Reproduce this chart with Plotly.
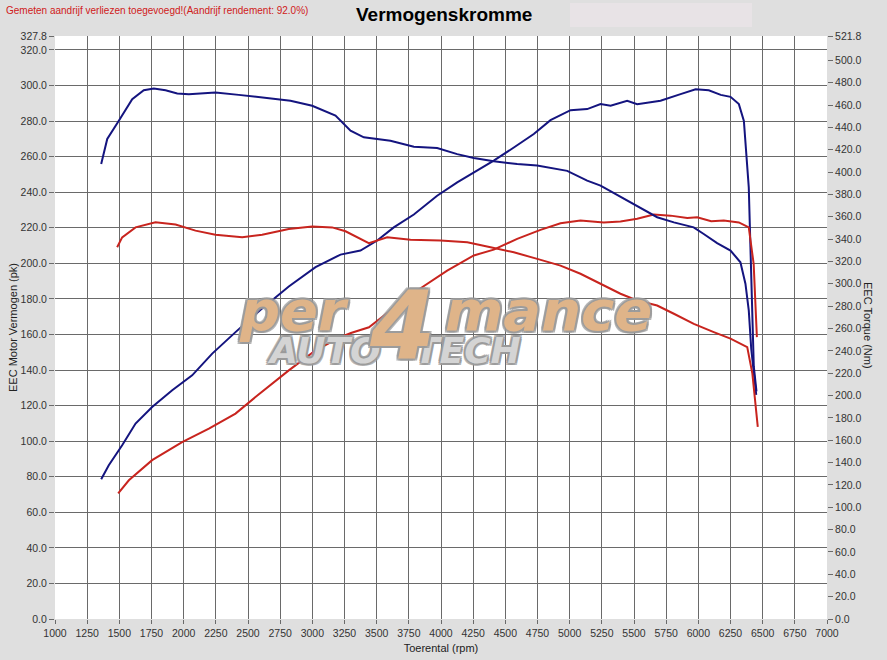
import plotly.graph_objects as go

# ---------------- data ----------------
rpm_ticks = list(range(1000, 7001, 250))
left_ticks = [float(v) for v in range(0, 321, 20)] + [327.8]
right_ticks = [float(v) for v in range(0, 501, 20)] + [521.8]

# Blue run - power (pk, left axis)
blue_power_rpm = [1359, 1418, 1522, 1626, 1755, 1911, 2066, 2222, 2403, 2600, 2817, 3025,
                  3219, 3374, 3504, 3633, 3789, 3970, 4126, 4255, 4410, 4566, 4721, 4851,
                  5007, 5136, 5240, 5318, 5447, 5525, 5706, 5862, 5979, 6081, 6174, 6250,
                  6315, 6354, 6375, 6392, 6405, 6418, 6431, 6452]
blue_power_pk = [78.6, 86.5, 97.7, 109.9, 119.2, 128.6, 137.0, 149.2, 161.3, 174.0, 187.0, 197.8,
                 204.9, 207.2, 212.8, 220.2, 227.4, 238.0, 245.5, 251.1, 257.7, 265.1, 272.7, 280.5,
                 286.1, 286.7, 289.5, 288.6, 291.4, 289.5, 291.4, 295.1, 297.9, 297.3, 294.7, 293.6,
                 289.5, 280.1, 261.4, 242.7, 209.0, 172.0, 142.0, 128.0]

# Blue run - torque (Nm, right axis)
blue_torque_rpm = [1359, 1406, 1496, 1600, 1690, 1768, 1859, 1950, 2040, 2247, 2428, 2610,
                   2830, 2999, 3180, 3297, 3400, 3607, 3789, 3970, 4126, 4255, 4410, 4592,
                   4747, 4981, 5136, 5240, 5369, 5498, 5576, 5680, 5810, 5964, 6042, 6146,
                   6250, 6327, 6366, 6392, 6411, 6430, 6450]
blue_torque_nm = [407.2, 429.6, 445.9, 465.3, 473.2, 474.8, 473.2, 470.4, 469.7, 471.2, 469.1, 466.7,
                  463.9, 459.4, 450.5, 437.0, 431.1, 428.0, 422.6, 421.5, 416.1, 412.6, 409.6, 407.2,
                  405.8, 401.1, 392.4, 387.9, 379.8, 371.5, 366.1, 359.6, 355.0, 350.5, 344.6, 336.4,
                  329.8, 319.3, 300.1, 276.2, 242.0, 219.7, 200.6]

# Red run - power (pk, left axis)
red_power_rpm = [1491, 1574, 1755, 1988, 2196, 2403, 2558, 2817, 3025, 3219, 3300, 3374,
                 3440, 3607, 3815, 4048, 4255, 4410, 4592, 4773, 4929, 5084, 5265, 5395,
                 5525, 5654, 5784, 5914, 5991, 6100, 6198, 6315, 6392, 6430, 6455]
red_power_pk = [70.6, 78.0, 89.3, 99.5, 107.0, 115.5, 124.8, 139.8, 151.0, 158.5, 160.8, 162.5,
                164.0, 173.5, 184.7, 195.9, 204.4, 207.7, 213.7, 218.8, 222.5, 224.0, 223.0, 223.5,
                225.0, 227.4, 226.8, 225.5, 225.9, 223.6, 224.0, 223.0, 220.2, 199.7, 158.5]

# Red run - torque (Nm, right axis)
red_torque_rpm = [1483, 1522, 1626, 1781, 1937, 2092, 2247, 2455, 2610, 2817, 2999, 3154,
                  3258, 3322, 3439, 3582, 3763, 3996, 4204, 4385, 4566, 4748, 4929, 5084,
                  5240, 5395, 5525, 5680, 5810, 5965, 6120, 6250, 6380, 6420, 6462]
red_torque_nm = [332.7, 341.6, 350.5, 355.0, 353.1, 347.6, 344.0, 341.6, 344.0, 349.1, 351.2, 350.5,
                 347.0, 343.2, 336.4, 341.6, 339.4, 338.7, 337.1, 332.7, 328.2, 322.3, 316.3, 309.0,
                 300.1, 291.1, 285.1, 280.6, 273.2, 264.2, 256.8, 250.9, 243.4, 219.7, 171.9]

# ---------------- figure ----------------
BLUE = "#14147f"
RED = "#c8241e"
GRID = "#6a6a6a"
FONT = "Liberation Sans, Arial, sans-serif"

# plot-area pixel geometry (for placing decorations in paper coordinates)
L, R, T, B = 55, 60, 36, 41
PW, PH = 887 - L - R, 660 - T - B


def px(xp):
    return (xp - L) / PW


def py(yp):
    return (660 - B - yp) / PH


fig = go.Figure()
fig.add_trace(go.Scatter(x=blue_power_rpm, y=blue_power_pk, mode="lines",
                         line=dict(color=BLUE, width=2), yaxis="y", showlegend=False))
fig.add_trace(go.Scatter(x=blue_torque_rpm, y=blue_torque_nm, mode="lines",
                         line=dict(color=BLUE, width=2), yaxis="y2", showlegend=False))
fig.add_trace(go.Scatter(x=red_power_rpm, y=red_power_pk, mode="lines",
                         line=dict(color=RED, width=2), yaxis="y", showlegend=False))
fig.add_trace(go.Scatter(x=red_torque_rpm, y=red_torque_nm, mode="lines",
                         line=dict(color=RED, width=2), yaxis="y2", showlegend=False))

tickfont = dict(family=FONT, size=10.5, color="#333333")

fig.update_layout(
    width=887, height=660,
    margin=dict(l=L, r=R, t=T, b=B, autoexpand=False),
    paper_bgcolor="#dfdfdf",
    plot_bgcolor="#ffffff",
    hovermode=False,
    font=dict(family=FONT, size=11, color="#333333"),
    xaxis=dict(range=[1000, 7000], tickvals=rpm_ticks, ticktext=[str(v) for v in rpm_ticks],
               showgrid=True, gridcolor=GRID, gridwidth=1, zeroline=False, automargin=False,
               ticks="outside", ticklen=4, tickcolor=GRID, tickfont=tickfont,
               title=dict(text="Toerental (rpm)", font=dict(family=FONT, size=11, color="#222222"),
                          standoff=6)),
    yaxis=dict(range=[0, 327.8], tickvals=left_ticks, ticktext=[f"{v:.1f}" for v in left_ticks],
               showgrid=True, gridcolor=GRID, gridwidth=1, zeroline=False, automargin=False,
               ticks="outside", ticklen=5, tickcolor=GRID, tickfont=tickfont,
               title=dict(text="EEC Motor Vermogen (pk)", font=dict(family=FONT, size=11, color="#222222"),
                          standoff=0)),
    yaxis2=dict(range=[0, 521.8], overlaying="y", side="right", automargin=False,
                tickvals=right_ticks, ticktext=[f"{v:.1f}" for v in right_ticks],
                showgrid=False, zeroline=False,
                ticks="outside", ticklen=5, tickcolor=GRID, tickfont=tickfont),
)

# faint box in the header
fig.add_shape(type="rect", xref="paper", yref="paper",
              x0=px(570), x1=px(752), y0=py(27), y1=py(3),
              fillcolor="#e8e3e6", line=dict(width=0), layer="below")

# header texts
fig.add_annotation(text="<b>Vermogenskromme</b>", xref="paper", yref="paper",
                   x=px(444), y=py(14), xanchor="center", yanchor="middle",
                   showarrow=False, font=dict(family=FONT, size=19, color="#000000"))
fig.add_annotation(text="Gemeten aandrijf verliezen toegevoegd!(Aandrijf rendement: 92.0%)",
                   xref="paper", yref="paper", x=px(4), y=py(10),
                   xanchor="left", yanchor="middle", showarrow=False,
                   font=dict(family=FONT, size=10, color="#d02020"))
fig.add_annotation(text="EEC Torque (Nm)", xref="paper", yref="paper",
                   x=px(868), y=py(325), textangle=90,
                   xanchor="center", yanchor="middle", showarrow=False,
                   font=dict(family=FONT, size=11, color="#222222"))

# watermark logo
OUT_G = "#9a9a9a"
outline = ", ".join(f"{dx}px {dy}px 0 {OUT_G}" for dx, dy in
                    [(2, 2), (-2, -2), (2, -2), (-2, 2), (2, 0), (-2, 0), (0, 2), (0, -2)])
orange = "rgba(249,190,130,0.72)"
grey_fill = "rgba(236,236,236,0.72)"
wm = dict(family="DejaVu Sans", weight="bold", style="italic", shadow=outline)
fig.add_annotation(text="per", xref="paper", yref="paper", x=px(294), y=py(310),
                   showarrow=False, xanchor="center", yanchor="middle",
                   font=dict(size=56, color=orange, **wm))
fig.add_annotation(text="mance", xref="paper", yref="paper", x=px(548), y=py(310),
                   showarrow=False, xanchor="center", yanchor="middle",
                   font=dict(size=56, color=orange, **wm))
fig.add_annotation(text="AUTO", xref="paper", yref="paper", x=px(324), y=py(350),
                   showarrow=False, xanchor="center", yanchor="middle",
                   font=dict(size=36, color=grey_fill, **wm))
fig.add_annotation(text="TECH", xref="paper", yref="paper", x=px(468), y=py(350),
                   showarrow=False, xanchor="center", yanchor="middle",
                   font=dict(size=36, color=grey_fill, **wm))
fig.add_annotation(text="4", xref="paper", yref="paper", x=px(402), y=py(326),
                   showarrow=False, xanchor="center", yanchor="middle",
                   font=dict(size=94, color=orange, **wm))

fig.write_html("out.html", config={"displayModeBar": False},
               post_script="document.body.style.margin='0';")
